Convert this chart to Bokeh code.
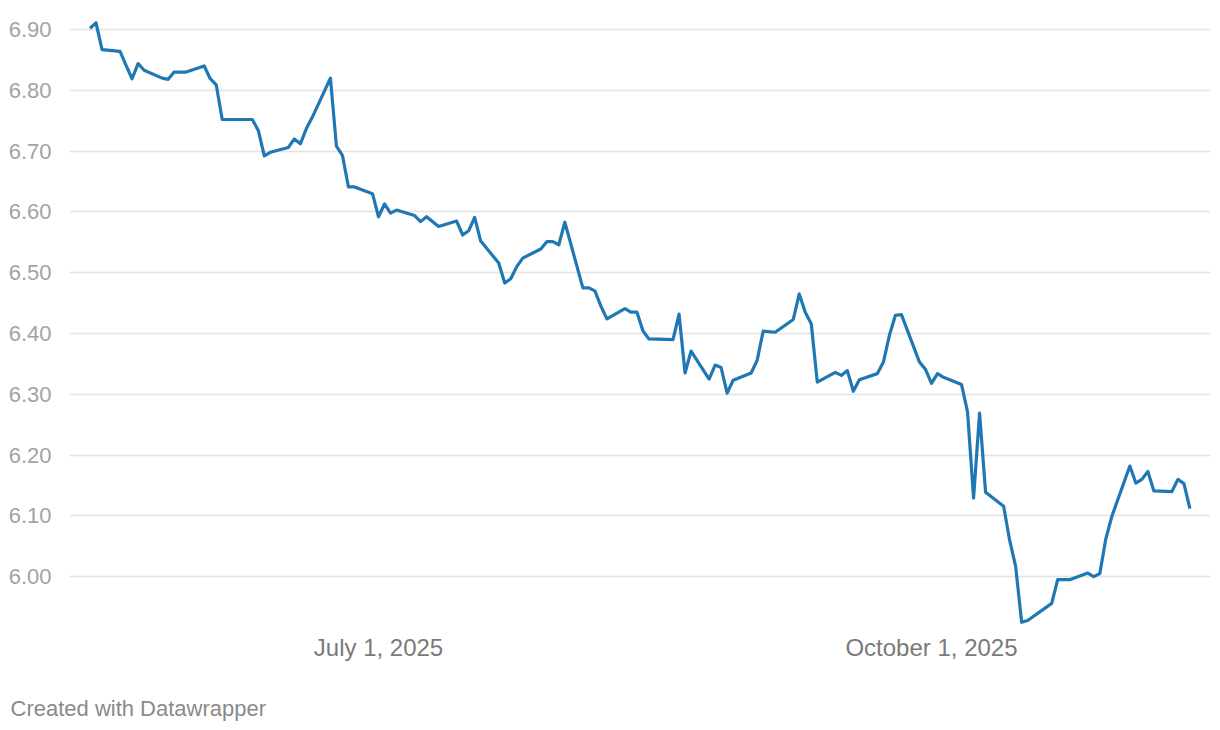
import pandas as pd
from bokeh.plotting import figure
from bokeh.models import Range1d, FixedTicker, Label, ColumnDataSource
from bokeh.embed import file_html
from bokeh.resources import INLINE

dates = [
    "2025-05-14", "2025-05-15", "2025-05-16", "2025-05-19", "2025-05-20", "2025-05-21",
    "2025-05-22", "2025-05-23", "2025-05-26", "2025-05-27", "2025-05-28", "2025-05-30",
    "2025-06-02", "2025-06-03", "2025-06-04", "2025-06-05", "2025-06-10", "2025-06-11",
    "2025-06-12", "2025-06-13", "2025-06-16", "2025-06-17", "2025-06-18", "2025-06-19",
    "2025-06-20", "2025-06-23", "2025-06-24", "2025-06-25", "2025-06-26", "2025-06-27",
    "2025-06-30", "2025-07-01", "2025-07-02", "2025-07-03", "2025-07-04", "2025-07-07",
    "2025-07-08", "2025-07-09", "2025-07-11", "2025-07-14", "2025-07-15", "2025-07-16",
    "2025-07-17", "2025-07-18", "2025-07-21", "2025-07-22", "2025-07-23", "2025-07-24",
    "2025-07-25", "2025-07-28", "2025-07-29", "2025-07-30", "2025-07-31", "2025-08-01",
    "2025-08-04", "2025-08-05", "2025-08-06", "2025-08-07", "2025-08-08", "2025-08-11",
    "2025-08-12", "2025-08-13", "2025-08-14", "2025-08-15", "2025-08-19", "2025-08-20",
    "2025-08-21", "2025-08-22", "2025-08-25", "2025-08-26", "2025-08-27", "2025-08-28",
    "2025-08-29", "2025-09-01", "2025-09-02", "2025-09-03", "2025-09-05", "2025-09-08",
    "2025-09-09", "2025-09-10", "2025-09-11", "2025-09-12", "2025-09-15", "2025-09-16",
    "2025-09-17", "2025-09-18", "2025-09-19", "2025-09-22", "2025-09-23", "2025-09-24",
    "2025-09-25", "2025-09-26", "2025-09-29", "2025-09-30", "2025-10-01", "2025-10-02",
    "2025-10-03", "2025-10-06", "2025-10-07", "2025-10-08", "2025-10-09", "2025-10-10",
    "2025-10-13", "2025-10-14", "2025-10-15", "2025-10-16", "2025-10-17", "2025-10-21",
    "2025-10-22", "2025-10-24", "2025-10-27", "2025-10-28", "2025-10-29", "2025-10-30",
    "2025-10-31", "2025-11-03", "2025-11-04", "2025-11-05", "2025-11-06", "2025-11-07",
    "2025-11-10", "2025-11-11", "2025-11-12", "2025-11-13",
]

values = [
    6.902, 6.911, 6.867, 6.864, 6.841, 6.819,
    6.844, 6.833, 6.820, 6.818, 6.830, 6.830,
    6.840, 6.819, 6.809, 6.752, 6.752, 6.734,
    6.692, 6.698, 6.706, 6.720, 6.712, 6.737,
    6.756, 6.820, 6.708, 6.693, 6.641, 6.641,
    6.630, 6.592, 6.613, 6.598, 6.603, 6.594,
    6.584, 6.592, 6.576, 6.585, 6.562, 6.569,
    6.591, 6.552, 6.516, 6.483, 6.490, 6.510,
    6.524, 6.539, 6.551, 6.551, 6.546, 6.583,
    6.475, 6.475, 6.470, 6.445, 6.424, 6.441,
    6.435, 6.435, 6.404, 6.391, 6.390, 6.432,
    6.335, 6.371, 6.325, 6.348, 6.344, 6.302,
    6.323, 6.335, 6.356, 6.404, 6.402, 6.423,
    6.465, 6.435, 6.416, 6.320, 6.336, 6.331,
    6.339, 6.305, 6.324, 6.334, 6.353, 6.397,
    6.430, 6.431, 6.353, 6.341, 6.318, 6.334,
    6.328, 6.316, 6.271, 6.129, 6.269, 6.139,
    6.116, 6.060, 6.017, 5.925, 5.928, 5.956,
    5.995, 5.995, 6.006, 6.000, 6.005, 6.062,
    6.099, 6.182, 6.154, 6.160, 6.173, 6.141,
    6.140, 6.160, 6.153, 6.112,
]

y_ticks = [6.0, 6.1, 6.2, 6.3, 6.4, 6.5, 6.6, 6.7, 6.8, 6.9]
x_tick_dates = ["2025-07-01", "2025-10-01"]
x_tick_labels = ["July 1, 2025", "October 1, 2025"]
footer_text = "Created with Datawrapper"

FONT = "Liberation Sans"

x = pd.to_datetime(dates)
src = ColumnDataSource(data=dict(x=x, y=values))

x_start = pd.Timestamp("2025-07-01") - pd.Timedelta(days=51.41)
x_end = pd.Timestamp("2025-07-01") + pd.Timedelta(days=138.42)

p = figure(
    width=1212, height=728,
    x_axis_type="datetime",
    x_range=Range1d(x_start, x_end),
    y_range=Range1d(5.9197, 6.93125),
    output_backend="svg",
    toolbar_location=None,
    min_border_left=69, min_border_right=2, min_border_top=10, min_border_bottom=103,
)
p.outline_line_color = None
p.background_fill_color = "white"
p.border_fill_color = "white"

p.line("x", "y", source=src, line_color="#1f77b4", line_width=3.2, line_join="round")

# y axis
p.yaxis.ticker = FixedTicker(ticks=y_ticks)
p.yaxis.major_label_overrides = {t: f"{t:.2f}" for t in y_ticks}
p.yaxis.axis_line_color = None
p.yaxis.major_tick_line_color = None
p.yaxis.minor_tick_line_color = None
p.yaxis.major_label_standoff = 12
p.yaxis.major_label_text_font = FONT
p.yaxis.major_label_text_font_size = "22px"
p.yaxis.major_label_text_color = "#a3a3a3"

# x axis
tick_ms = [pd.Timestamp(d).value / 1e6 for d in x_tick_dates]
p.xaxis.ticker = FixedTicker(ticks=tick_ms)
p.xaxis.major_label_overrides = {t: lab for t, lab in zip(tick_ms, x_tick_labels)}
p.xaxis.axis_line_color = None
p.xaxis.major_tick_line_color = None
p.xaxis.minor_tick_line_color = None
p.xaxis.major_label_standoff = 2
p.xaxis.major_label_text_font = FONT
p.xaxis.major_label_text_font_size = "24px"
p.xaxis.major_label_text_color = "#7a7a7a"

p.xgrid.grid_line_color = None
p.ygrid.ticker = FixedTicker(ticks=y_ticks)
p.ygrid.grid_line_color = "#e3e3e3"
p.ygrid.grid_line_width = 1.5

footer = Label(x=-59, y=-20, x_units="screen", y_units="screen", text=footer_text,
               text_font=FONT, text_font_size="22px", text_color="#8a8a8a",
               text_baseline="alphabetic", text_align="left")
p.add_layout(footer, "below")

open("out.html", "w").write(file_html(p, INLINE))
